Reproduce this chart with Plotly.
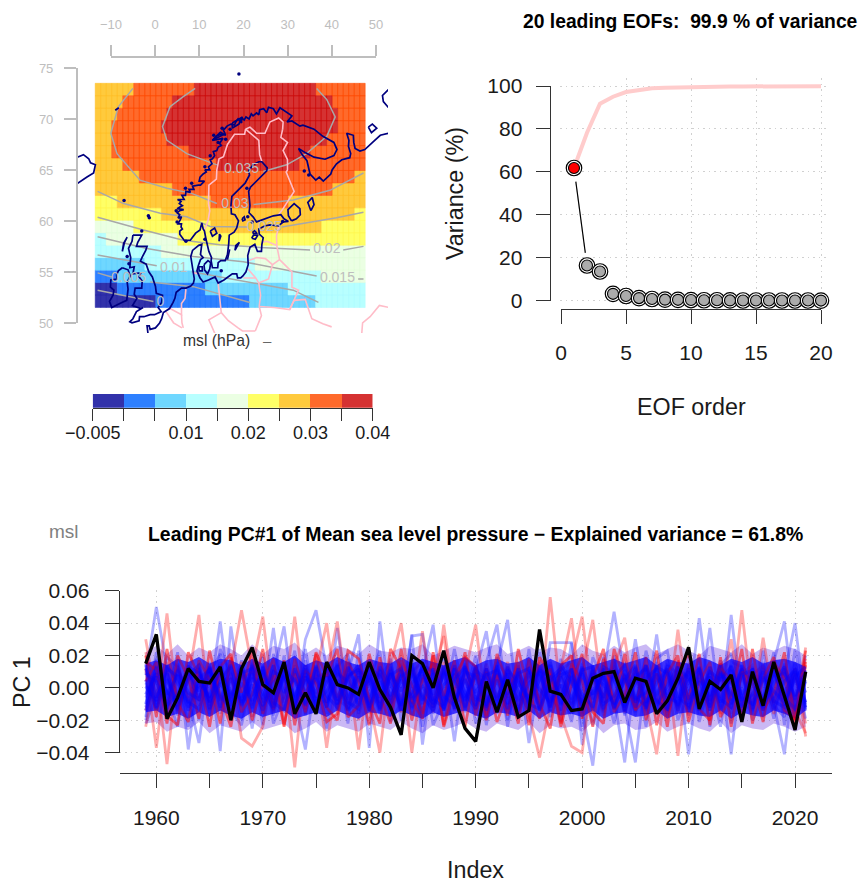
import plotly.graph_objects as go

W, H = 862, 884
def xd(a, b): return [a / W, b / W]
def yd(top, bot): return [1 - bot / H, 1 - top / H]

FONT = "Liberation Sans"

# ---------- map data ----------
band_colors = ["#3232AA", "#2E80FF", "#6FD7FF", "#B8FFFF", "#EBFFE3", "#FFFF66", "#FFCA3D", "#FF6A2B", "#D53232"]
band_edges_colors = ["#2A2AA6", "#2478FF", "#62D0FF", "#AEFAFF", "#E3FCDA", "#FFF650", "#FFBE28", "#FF4A00", "#CC0A0A"]
band_breaks = [-0.005, 0, 0.005, 0.01, 0.015, 0.02, 0.025, 0.03, 0.035, 0.04]
band_tick_labels = ["−0.005", "", "", "0.01", "", "0.02", "", "0.03", "", "0.04"]

lon_start, lon_step, lat_top, lat_step = -13.54, 1.2475, 73.5, 1.2222
eof_rows = [
    [(6, 7), (7, 11), (8, 22), (7, 9)],
    [(6, 5), (7, 9), (8, 29), (7, 6)],
    [(6, 4), (7, 9), (8, 31), (7, 5)],
    [(6, 3), (7, 9), (8, 32), (7, 5)],
    [(6, 3), (7, 10), (8, 29), (7, 7)],
    [(6, 3), (7, 14), (8, 22), (7, 10)],
    [(6, 5), (7, 17), (8, 15), (7, 12)],
    [(6, 8), (7, 39), (6, 2)],
    [(6, 14), (7, 29), (6, 6)],
    [(5, 4), (6, 17), (7, 14), (6, 14)],
    [(5, 12), (6, 35), (5, 2)],
    [(4, 7), (5, 14), (6, 20), (5, 8)],
    [(3, 2), (4, 13), (5, 34)],
    [(3, 12), (4, 37)],
    [(2, 9), (3, 20), (4, 20)],
    [(1, 4), (2, 19), (3, 18), (4, 8)],
    [(0, 4), (1, 16), (2, 15), (3, 14)],
    [(0, 11), (1, 17), (2, 12), (3, 9)],
]

contours = {
    "0.035a": [(9.1, 73.0), (6.4, 72.2), (3.4, 71.2), (1.7, 69.25), (2.7, 67.9), (7.2, 66.6), (14.0, 65.5)],
    "0.035b": [(24.5, 64.85), (29.8, 65.5), (34.3, 66.6), (38.9, 68.3), (40.8, 70.2), (38.9, 71.9), (36.6, 73.0)],
    "0.03a": [(-5.0, 73.0), (-8.3, 71.2), (-10, 68.6), (-8.6, 66.6), (-3.4, 64.0), (2.7, 63.2), (8.3, 62.7), (14, 61.7)],
    "0.03b": [(22.3, 61.6), (31.3, 62.05), (39.6, 63.0), (47.2, 64.7)],
    "0.025a": [(-13, 62.9), (-7.1, 61.7), (1.2, 60.75), (7.2, 60.4), (12.5, 59.45), (20.8, 59.4)],
    "0.025b": [(28.7, 59.4), (41.1, 60.3), (47.2, 60.85)],
    "0.02a": [(-13, 60.35), (-2.6, 59.1), (6.4, 58.1), (14.7, 57.65), (23.8, 57.4), (35.1, 57.15)],
    "0.02b": [(42.6, 57.15), (47.2, 57.5)],
    "0.015a": [(-13, 58.45), (-1.85, 57.3), (8.7, 56.5), (20, 56.0), (36.6, 54.6)],
    "0.015b": [(46.0, 54.3), (47.2, 54.3)],
    "0.01a": [(-13, 56.65), (0.4, 55.6)],
    "0.01b": [(8.3, 55.0), (16.2, 54.4), (31.3, 53.2), (37, 52.0)],
    "0.005a": [(-13, 54.9), (-9.8, 54.5)],
    "0.005b": [(-1.1, 54.0), (8.7, 53.55), (21.5, 52.0)],
    "0": [(-13, 53.2), (-0.35, 52.1)],
}
contour_label_text = ["0.035", "0.03", "0.025", "0.02", "0.015", "0.01", "0.005", "0"]
contour_label_lon = [19.6, 18.1, 24.7, 38.9, 41.3, 4.2, -6.0, 1.2]
contour_label_lat = [65.0, 61.6, 59.4, 57.15, 54.35, 55.35, 54.3, 52.0]

coast_main = [
    (52.9, 68.6), (51, 68.4), (49.5, 67.8), (47.5, 67.0), (46.4, 66.85), (45.3, 67.1), (45.0, 67.7), (44.9, 68.4), (43.4, 68.6),
    (43.9, 67.9), (43.8, 67.3), (44.3, 66.6), (44.1, 66.2), (42.3, 66.0), (41.1, 65.6), (40.1, 65.0), (39.8, 64.6), (38.1, 63.9),
    (37.2, 64.3), (36.4, 64.0), (35.1, 64.6), (34.7, 65.2), (34.4, 65.9), (33.3, 66.5), (32.5, 67.1), (34, 66.7), (36, 66.25),
    (38.5, 66.05), (40.5, 66.4), (41.2, 67.0), (40.5, 67.7), (38, 68.3), (36, 69.0), (33.5, 69.4), (32.8, 69.3), (31, 69.8), (29.9, 69.7), (31.0, 70.3),
    (29.5, 70.7), (28.3, 71.1), (27.5, 70.5), (26.8, 71.0), (25.7, 71.15), (25.3, 70.6), (24.6, 71.0), (23.7, 70.9), (23.5, 70.4), (23.0, 70.6),
    (22.2, 70.3), (21.8, 70.5), (21.3, 70.0), (20.6, 70.2), (20.2, 69.9), (19.6, 70.1), (19.6, 69.6), (18.8, 70.0), (18.3, 69.7), (18.0, 69.4),
    (17.2, 69.5), (16.3, 69.3), (15.5, 68.9), (16.0, 68.4), (15.0, 68.5), (14.0, 68.35), (13.0, 67.9), (14.2, 68.0), (15.4, 68.1), (14.6, 67.6),
    (15.0, 67.4), (14.3, 67.25), (14.0, 66.9), (13.2, 66.8), (13.5, 66.4), (13.0, 66.1), (12.5, 66.0), (12.9, 65.6), (12.1, 65.3), (12.4, 65.0),
    (11.3, 65.0), (11.6, 64.8), (10.9, 64.6), (10.2, 64.3), (10.0, 63.9), (11.2, 63.9), (10.3, 63.5), (9.8, 63.5), (8.5, 63.4), (8.8, 63.1),
    (7.7, 63.1), (8.0, 62.8), (7.0, 62.9), (6.9, 62.5), (6.1, 62.5), (6.6, 62.1), (5.1, 62.1), (5.9, 61.9), (5.5, 61.7), (6.2, 61.5), (5.0, 61.2),
    (6.5, 61.1), (5.6, 61.0), (5.0, 60.8), (5.6, 60.6), (5.2, 60.3), (6.0, 60.4), (5.7, 60.1), (5.2, 59.7), (6.0, 59.7), (5.9, 59.4), (6.2, 59.2),
    (5.6, 59.0), (5.6, 58.7), (6.6, 58.1), (8.0, 58.1), (9.2, 58.8), (10.2, 59.1),
    (10.6, 59.8), (10.9, 59.2), (11.2, 59.0), (11.5, 58.3), (11.9, 57.7), (12.2, 57.0), (12.8, 56.4), (12.7, 56.1), (13.0, 55.4), (14.2, 55.4),
    (14.3, 55.9), (14.9, 56.1), (15.9, 56.1), (16.4, 56.7), (16.7, 57.8), (16.8, 58.6), (17.9, 58.9), (18.5, 59.3), (18.9, 60.0), (18.1, 60.6),
    (17.3, 60.7), (17.2, 61.5), (17.4, 62.4), (18.6, 62.9), (19.8, 63.5), (20.4, 63.7), (21.4, 64.5), (21.2, 64.9), (22.2, 65.5), (23.5, 65.8), (24.2, 65.8),
    (25.4, 65.2), (25.3, 64.9), (24.6, 64.6), (23.0, 63.9), (21.6, 63.3), (21.2, 62.9), (21.4, 62.2), (21.5, 61.5), (21.3, 60.8), (22.2, 60.4),
    (23.0, 59.9), (25.0, 60.2), (26.8, 60.5), (28.5, 60.6), (29.2, 60.2), (30.2, 59.95), (29.0, 59.9), (28.0, 59.5), (26.0, 59.6), (24.8, 59.5), (23.5, 59.2),
    (23.6, 58.7), (24.5, 58.35), (24.2, 57.7), (24.1, 57.0), (23.2, 57.0), (22.6, 57.7), (21.5, 57.4), (21.0, 56.6), (21.1, 55.7), (20.6, 55.0), (19.9, 54.6),
    (19.4, 54.4), (18.7, 54.4), (18.5, 54.8), (17.5, 54.8), (15.6, 54.2), (14.3, 53.9), (13.6, 54.5), (12.1, 54.2), (10.9, 54.0), (10.2, 54.4), (9.9, 54.8),
    (9.5, 55.1), (9.8, 55.6), (10.3, 56.2), (10.9, 56.4), (10.3, 56.7), (10.5, 57.4), (10.6, 57.7), (9.9, 57.6), (8.5, 57.1), (8.1, 56.5), (8.4, 55.5),
    (8.6, 54.9), (8.9, 54.3), (8.7, 53.9), (8.1, 53.6), (7.0, 53.4), (6.0, 53.4), (4.8, 53.0), (4.5, 52.4), (4.1, 52.0), (3.3, 51.4), (1.9, 51.0),
    (1.5, 50.4), (1.0, 49.95), (0.1, 49.5), (-1.1, 49.35), (-1.3, 49.7), (-1.8, 49.7), (-1.6, 49.0),
]
coast_britain = [
    (-5.0, 58.6), (-3.4, 58.65), (-3.0, 58.6), (-3.9, 57.9), (-4.2, 57.5), (-1.8, 57.5), (-2.1, 57.1), (-2.9, 56.45), (-3.3, 56.05), (-2.0, 55.75),
    (-1.4, 55.0), (-0.6, 54.5), (0.1, 53.6), (0.3, 52.9), (1.7, 52.7), (1.5, 52.0), (0.7, 51.5), (1.4, 51.1), (-0.1, 50.8), (-1.1, 50.8), (-2.5, 50.6),
    (-3.5, 50.6), (-3.6, 50.2), (-5.2, 50.0), (-5.7, 50.1), (-5.0, 50.4), (-4.2, 51.1), (-2.7, 51.5), (-3.2, 51.4), (-5.1, 51.7), (-4.1, 52.4),
    (-4.7, 52.8), (-4.5, 53.4), (-3.0, 53.4), (-2.9, 54.1), (-3.6, 54.5), (-3.2, 54.9), (-5.0, 54.8), (-4.7, 55.5), (-5.7, 55.4), (-5.5, 56.4), (-6.0, 57.3), (-5.2, 58.0), (-5.0, 58.6),
]
coast_ireland = [
    (-7.4, 55.4), (-6.1, 55.2), (-5.6, 54.6), (-6.3, 54.0), (-6.1, 53.3), (-6.4, 52.2), (-7.5, 52.0), (-8.3, 51.8), (-9.8, 51.5), (-10.3, 52.1),
    (-9.5, 52.7), (-9.3, 53.2), (-10.1, 53.5), (-10.0, 54.2), (-8.6, 54.3), (-8.7, 54.7), (-8.3, 55.1), (-7.4, 55.4),
]
coast_iceland = [(-17.8, 66.2), (-16.2, 66.5), (-15.0, 66.1), (-14.6, 65.7), (-13.5, 65.5), (-13.9, 64.7), (-15.4, 64.3), (-17.3, 63.7), (-17.8, 63.6)]
coast_kolguev = [(48.3, 69.2), (49.2, 69.5), (50.2, 69.1), (49, 68.65), (48.3, 69.2)]
coast_novaya = [(52.9, 72.9), (51.5, 72.3), (51.7, 71.7), (52.9, 71.1)]
coast_gotland = [(18.1, 57.1), (18.8, 57.7), (19.1, 57.9), (18.3, 57.6), (18.1, 57.1)]
coast_oland = [(16.4, 56.2), (16.9, 57.2), (16.6, 56.6), (16.4, 56.2)]
coast_saaremaa = [(21.9, 58.3), (22.3, 58.6), (23.3, 58.6), (22.7, 58.2), (21.9, 58.3)]
coast_hiiumaa = [(22.1, 58.9), (22.6, 59.05), (23.0, 58.8), (22.3, 58.75), (22.1, 58.9)]
coast_zealand = [(11.1, 55.7), (12.0, 56.1), (12.6, 55.9), (12.4, 55.3), (11.9, 54.8), (11.2, 55.2), (11.1, 55.7)]
coast_funen = [(9.9, 55.5), (10.7, 55.5), (10.7, 55.1), (10.0, 55.1), (9.9, 55.5)]
coast_ladoga = [(30.9, 60.0), (30.2, 60.5), (30.1, 61.1), (31.5, 61.7), (32.8, 61.2), (32.9, 60.6), (32.0, 60.2), (30.9, 60.0)]
coast_onega = [(35.3, 61.0), (34.6, 61.8), (35.6, 62.3), (36.0, 61.6), (35.3, 61.0)]
coast_vanern = [(12.5, 59.0), (13.5, 59.3), (14.0, 58.8), (13.0, 58.5), (12.5, 59.0)]
coast_vattern = [(14.5, 58.0), (14.6, 58.7), (14.9, 58.5), (14.5, 58.0)]
coast_aland = [(19.7, 60.2), (20.2, 60.4), (20.4, 60.1), (19.9, 60.0), (19.7, 60.2)]
coast_lofoten = [(13.0, 67.9), (14.8, 68.7), (15.6, 68.5), (14.0, 68.1), (13.0, 67.9)]
coast_skerries = [(17.5, 69.6), (18.6, 69.9), (19.8, 70.2), (19.0, 69.5), (17.5, 69.1), (17.5, 69.6)]
coast_hebrides = [(-7.4, 57.0), (-7.1, 57.8), (-6.3, 58.4), (-6.9, 57.9), (-7.4, 57.0)]
coast_jan_mayen = [(-9.0, 70.85), (-8.2, 71.1), (-8.6, 70.95), (-9.0, 70.85)]
coast_dots = [(19.0, 74.4), (-7.0, 62.0), (-1.3, 60.3), (-1.5, 60.5), (-3.0, 59.0), (15.0, 55.1), (-6.3, 56.5), (-5.9, 55.8),
              (34.8, 64.5), (33.8, 64.9), (13.3, 68.4), (15.2, 69.1), (12.5, 66.4), (11.3, 65.3), (8.3, 63.7), (4.8, 61.0), (5.0, 59.9),
              (7.0, 58.0), (11.3, 58.2), (28.9, 59.95), (22.0, 59.9), (21.0, 60.4), (20.8, 63.2), (6.9, 63.2), (17.0, 69.0), (16.0, 68.0), (14.3, 67.7)]

borders = [
    [(11.2, 59.1), (11.8, 59.7), (12.0, 60.0), (12.4, 61.0), (12.1, 61.7), (12.2, 63.5), (13.9, 64.1), (14.0, 65.0), (14.5, 66.1), (15.5, 66.3), (16.4, 67.5), (18.0, 68.5), (20.3, 68.5), (20.5, 69.0)],
    [(20.5, 69.0), (21.5, 69.2), (23.0, 68.6), (24.9, 68.6), (26.0, 69.7), (28.0, 70.1), (29.0, 69.7), (28.9, 69.0)],
    [(20.5, 69.0), (23.5, 67.9), (23.7, 66.5), (24.2, 65.8)],
    [(28.9, 69.0), (28.5, 68.2), (30.0, 67.7), (29.0, 66.9), (30.0, 66.0), (30.0, 65.0), (29.7, 64.8), (30.5, 64.0), (31.5, 62.9), (29.0, 61.2), (27.8, 60.5)],
    [(28.0, 59.5), (27.5, 58.5), (27.6, 57.5), (28.2, 56.2), (31.0, 55.0), (31.0, 53.5), (32.5, 53.2), (31.5, 52.2), (30.5, 51.3)],
    [(24.4, 57.9), (25.3, 58.0), (27.5, 57.6)],
    [(21.1, 56.1), (23.0, 56.4), (25.0, 56.3), (26.6, 55.7), (28.2, 56.2)],
    [(26.6, 55.7), (25.7, 54.3), (24.0, 54.0), (23.5, 53.9), (23.9, 52.7), (23.6, 51.6), (24.1, 50.7), (22.7, 49.2)],
    [(20.0, 54.4), (22.8, 54.4), (21.0, 55.3)],
    [(22.8, 54.4), (23.5, 53.9)],
    [(23.6, 51.6), (27.0, 51.5), (30.5, 51.3), (31.5, 52.2), (34.0, 52.3), (35.5, 50.4), (38.0, 49.9), (40.0, 49.6)],
    [(14.3, 53.9), (14.6, 52.6), (15.0, 51.0), (12.2, 50.3), (13.7, 48.8)],
    [(15.0, 51.0), (16.6, 50.2), (18.8, 49.5), (19.8, 49.2), (22.7, 49.2)],
    [(7.0, 53.3), (6.8, 52.4), (6.0, 51.9), (6.0, 50.8), (3.4, 51.4)],
    [(6.0, 50.8), (6.1, 50.0), (6.4, 49.5)],
    [(8.6, 54.9), (9.9, 54.8)],
    [(2.5, 51.1), (4.2, 50.0), (6.1, 49.5)],
    [(46.8, 48.9), (47.0, 50.0), (48.7, 50.6), (50.8, 51.7), (53.0, 51.5)],
]

# ---------- EOF panel data ----------
eof_order = list(range(1, 21))
eof_variance = [61.8, 16.4, 13.6, 3.2, 2.2, 1.2, 0.8, 0.5, 0.4, 0.3, 0.2, 0.2, 0.15, 0.1, 0.1, 0.1, 0.1, 0.1, 0.1, 0.05]
eof_cumulative = [61.8, 78.2, 91.8, 95.0, 97.2, 98.2, 98.9, 99.2, 99.4, 99.5, 99.6, 99.7, 99.75, 99.8, 99.82, 99.85, 99.87, 99.89, 99.9, 99.9]

# ---------- PC panel data (values x 0.001) ----------
years = list(range(1959, 2022))
pc1 = [15, 33, -19, -6, 12, 4, 3, 13, -20, 12,
       25, 2, -3, 16, -16, -3, -16, 16, 2, 0,
       -4, 16, -1, -12, -29, 20, 15, 0, 23, -6,
       -25, -33, 4, -15, 5, -18, -14, 36, -2, -4,
       -14, -13, 6, 9, 10, -9, 6, 4, -16, -8,
       6, 25, -13, 4, -1, 8, -21, 10, -11, 16,
       -5, -26, 10]

# solid and thin parts of the ensemble cloud, read year by year
cloud_upper = [15,17,14,18,16,19,15,18,17,14, 18,15,19,16,20,14,17,15,19,16, 14,18,16,15,19,15,18,16,14,17, 19,14,17,18,15,16,19,14,18,15, 17,19,14,16,18,15,17,19,14,18, 16,15,19,17,14,18,16,19,15,17, 18,16,13]
cloud_lower = [-15,-14,-18,-16,-19,-15,-18,-14,-17,-19, -15,-18,-16,-14,-19,-17,-15,-18,-14,-17, -19,-15,-16,-18,-14,-17,-19,-15,-18,-16, -14,-17,-19,-15,-16,-18,-14,-19,-15,-17, -16,-18,-14,-19,-16,-15,-18,-17,-14,-19, -16,-15,-17,-18,-14,-19,-15,-17,-18,-14, -16,-19,-14]
outer_upper = [22,26,21,27,20,25,22,27,24,20, 27,21,26,24,28,21,25,20,26,24, 21,27,23,22,25,24,27,20,23,26, 24,22,25,27,21,23,26,22,25,24, 20,27,23,21,26,22,25,27,21,24, 27,23,20,26,24,22,27,21,25,23, 26,24,20]
outer_lower = [-22,-21,-27,-24,-26,-21,-28,-23,-25,-27, -21,-26,-24,-22,-28,-25,-21,-27,-23,-25, -27,-22,-24,-26,-21,-25,-28,-23,-26,-24, -21,-25,-27,-22,-24,-26,-21,-28,-23,-25, -24,-27,-21,-28,-23,-22,-26,-25,-21,-27, -24,-22,-25,-27,-21,-28,-23,-25,-26,-22, -24,-27,-24]

blue_members = [
    [8,50,12,-8,14,-6,10,-16,18,-4, -12,6,-10,16,-14,30,48,12,-6,8, -10,4,-16,9,-14,11,-18,6,-9,13, -8,14,-12,9,-20,8,-11,16,-5,-14, 10,-14,-48,9,47,6,-15,12,-10,17, -6,14,-16,7,-12,45,-9,12,-18,10, -8,16,-12],
    [-20,14,-8,22,-38,10,-6,41,-10,14, -18,11,-14,20,-8,-38,9,-12,15,-6, 12,-9,15,-13,8,-17,10,39,-14,12, -15,9,-11,14,42,-13,10,-9,17,-8, -16,8,-13,19,-6,-46,11,-14,9,-17, 16,-10,43,-7,14,-22,9,-15,12,-9, 15,-11,20],
    [15,-10,6,-14,11,-8,16,-39,38,-6, 12,-16,9,38,-11,7,-15,10,-8,18, -7,13,-12,6,-15,33,-35,12,-8,17, -14,10,35,-9,12,-18,7,-13,16,-11, 8,-16,13,-7,18,-12,-46,9,-14,6, -13,11,-9,37,-15,8,-17,13,-10,16, 41,-14,5],
    [-12,18,-9,12,-6,-34,13,-7,9,-15, 16,-8,37,-14,10,-11,8,-16,37,-9, 14,-6,11,-17,9,-12,15,-8,13,-10, 6,-13,16,39,-10,14,-34,8,-12,18, -9,12,-15,7,-13,16,-8,11,-16,14, 9,-41,13,-10,17,-8,12,-14,9,-19, 8,40,-13],
    [3,-14,10,-17,7,12,-11,16,-9,11, -25,14,-10,7,-13,17,-6,12,-14,9, 33,-37,41,-11,12,-9,14,-16,10,-7, 15,-10,12,-13,8,-15,17,-6,11,-14, 28,-35,14,-9,12,-17,10,-13,16,-8, 11,-15,9,-12,8,-41,13,-7,14,-10, -41,15,-9],
    [-6,9,-13,15,-9,8,-16,12,-5,17, -10,13,-17,8,-12,10,-14,14,-7,-12, 9,-13,7,16,-11,32,33,-10,12,-33, 14,-8,11,-16,9,-7,13,-12,28,28, 28,-12,8,-15,14,-10,30,-9,33,-13, 10,-17,12,-8,15,-13,7,-11,16,-6, 12,-16,8],
    [-18,22,-3,-24,16,-20,9,21,-14,-23, 7,19,-22,-5,23,-17,11,-25,13,21, -16,5,23,-21,-9,18,-24,4,20,-13, 17,-22,-6,19,-24,13,-8,24,-18,2, -21,15,-23,-4,20,-16,9,-24,18,23, -12,19,-21,3,-24,16,13,-20,-6,22, -23,8,-19],
    [-22,-5,19,13,-24,3,-17,24,8,-20, 15,-23,21,1,-19,24,-11,-7,17,-22, 23,-14,-3,18,-20,10,16,-23,-8,24, -6,20,-23,16,7,-19,24,-13,3,-21, 12,-24,19,5,-22,9,-17,23,-4,14, -20,-3,18,-24,14,21,-6,-16,23,-11, -18,24,-10],
]
red_members = [
    [30,-8,46,-12,5,45,-14,9,-7,16, -11,8,-15,12,-49,14,-6,10,-13,7, 12,-16,9,-8,14,-12,6,-15,11,-9, 10,-14,12,-7,16,-11,8,-13,56,-6, 14,-10,8,-17,11,-6,13,-15,9,-12, 16,-8,11,-14,7,-10,48,-9,13,-16, 10,-12,25],
    [-24,10,-47,14,-8,11,-13,7,12,48, 12,44,-9,15,-12,7,-14,11,-6,13, -38,12,-10,8,-15,13,-7,16,-11,9, -13,14,-8,11,-15,9,-12,17,-7,12, 43,-11,9,-14,16,-8,12,-10,-41,10, -15,13,-7,11,-16,9,-12,8,14,-10, 12,-14,-28],
    [12,-37,16,-6,13,-11,8,-14,10,-31, -36,-24,11,-9,14,-13,7,9,41,-10, 7,-14,12,-9,15,-40,8,-12,16,-6, -10,13,-15,9,-7,12,-16,-43,-10,11, 16,44,-9,12,-13,8,-11,14,-7,-15, 36,-12,10,-8,13,-16,9,14,-11,15, -7,12,-30],
    [-14,8,-11,13,-6,15,-9,12,-13,6, 10,-12,14,-7,44,-10,13,-37,9,-14, 11,-8,-40,14,40,-10,35,-12,39,-7, 9,39,-13,8,-14,10,-7,14,-11,9, -12,10,42,-9,13,-15,7,-10,14,-8, 11,-16,8,-10,15,-7,12,-13,31,-9, 14,-8,18],
    [22,-6,11,-15,9,-8,14,-10,6,-12, 13,-9,7,-14,11,-16,10,40,-8,12, -20,9,-13,12,-7,11,-15,8,32,-14, 6,-11,15,-8,13,-16,9,-7,12,-17, -36,-40,11,-6,14,31,-13,8,-10,12, -42,15,-9,13,-6,30,-14,10,-8,11, -16,9,-22],
    [20,-18,24,-9,-21,17,5,-22,19,-3, 23,-16,8,-24,18,-6,21,-12,-20,16, 4,-23,19,-14,24,-8,-19,22,-5,17, -24,11,-17,21,3,-22,18,-10,-25,14, 20,-19,6,24,-15,-4,22,-20,9,-24, 17,-7,21,-23,12,5,-18,24,-14,-3, 22,-20,16],
    [16,11,-22,20,6,-19,23,-5,-24,12, -20,3,18,-23,9,-15,22,7,24,-18, -11,21,-4,-22,17,2,-16,20,-23,7, 19,13,-20,8,-17,24,-3,-19,12,-22, 15,4,-24,18,-9,21,-14,-6,23,-18, 7,22,-13,-20,19,-24,10,4,-21,16, 6,-22,14],
    [4,16,-17,-23,22,7,-24,13,21,-15, -4,24,-13,17,-23,11,3,-21,-16,23, 18,-7,-22,24,12,-20,5,15,-24,-2, 22,-17,10,-21,-3,16,-23,19,8,-24, 2,21,-15,-22,24,4,-13,19,-23,9, 20,-21,3,16,-18,-5,24,-22,6,19, -14,-19,23],
]
core_members = [
    [12,-6,9,-13,5,11,-9,14,-11,3, -8,13,-5,10,-14,7,-3,12,-10,6, 14,-12,4,-7,11,-13,8,-4,13,-9, 5,-11,12,-6,9,-14,3,10,-12,7, -10,13,-4,8,-13,6,-9,14,-5,11, -14,4,12,-8,10,-3,-12,9,-7,13, -11,6,-9],
    [-10,13,-4,8,-12,6,11,-5,-13,9, 12,-7,14,-3,6,-11,13,-9,5,-14, -6,11,-13,9,-2,14,-8,12,-5,-11, 10,7,-14,13,-4,8,-10,-13,6,12, 3,-9,11,-13,7,14,-6,-11,12,-4, 9,-13,6,-5,14,-10,8,11,-12,3, 13,-7,11],
    [5,-12,14,3,-9,-13,7,10,-6,12, -13,9,-7,12,4,-10,14,-5,-12,8, 11,6,-9,13,-14,3,11,-7,-12,14, -3,-13,8,11,-6,12,-9,5,14,-10, 7,-4,-12,13,9,-11,3,14,-8,-13, 12,6,-10,13,-7,-12,14,2,-9,10, -6,-13,4],
    [-14,7,-11,-4,13,9,-8,4,14,-10, 2,-14,10,6,-7,12,-11,14,3,-9, -13,13,7,-10,5,-6,13,-12,2,8, -12,11,5,-8,13,-2,-14,11,7,-5, 12,-13,6,2,-10,11,-7,-3,13,9, -11,8,-14,10,5,13,-6,-10,7,-13, 4,11,-12],
    [9,4,-13,11,-3,-7,13,-12,6,-9, 14,3,-12,8,-6,14,-9,-2,11,-13, 7,-10,13,2,-11,9,-5,-14,10,4, -8,13,-6,-12,11,4,-10,13,-8,2, -13,9,-7,11,5,-12,13,-9,3,12, -6,-11,13,-14,8,3,-8,12,-13,7, 9,-5,10],
    [-4,9,-2,-11,8,14,-13,3,-8,13, -5,11,-9,-14,12,-3,6,-12,9,4, -11,8,-6,11,-9,-3,14,10,-13,5, 13,-6,-10,5,-13,9,12,-14,4,10, -7,11,13,-10,-5,8,-12,6,12,-14, 3,10,-12,7,-9,14,-11,-4,10,-8, -12,12,-3],
    [1,-8,12,7,-14,3,-5,11,-3,-7, 9,-11,3,13,-9,5,-13,7,-10,13, -2,5,-14,8,12,-7,1,-10,9,-13, 12,-3,9,-11,6,-8,11,-1,-9,14, 5,-12,9,-6,10,-14,7,12,-11,1, 13,-7,4,-12,9,-5,11,-13,6,-2, -9,7,13],
    [14,-13,5,-9,10,-2,12,-8,13,-11, 6,-3,-13,11,-5,9,-8,3,14,-7, 10,-14,11,-5,7,12,-10,9,-14,12, -7,9,-12,14,-10,3,-6,11,-14,8, 11,-8,-3,10,-12,5,14,-13,8,-6, -9,12,-5,9,-13,11,-4,7,-14,12, -3,10,-14],
]

fig = go.Figure()

# ---------- map ----------
by_level = {i: ([], []) for i in range(len(band_colors))}
for r, row in enumerate(eof_rows):
    top = lat_top - r * lat_step
    bot = top - lat_step
    c = 0
    for level, count in row:
        for _ in range(count):
            x0 = lon_start + c * lon_step
            x1 = x0 + lon_step
            by_level[level][0].extend([x0, x1, x1, x0, x0, None])
            by_level[level][1].extend([top, top, bot, bot, top, None])
            c += 1
for i, (xs, ys) in by_level.items():
    fig.add_trace(go.Scatter(x=xs, y=ys, mode="lines", fill="toself", fillcolor=band_colors[i],
                             line=dict(color=band_edges_colors[i], width=0.5), hoverinfo="skip", xaxis="x", yaxis="y"))

def poly(lst, color, width):
    fig.add_trace(go.Scatter(x=[p[0] for p in lst], y=[p[1] for p in lst], mode="lines",
                             line=dict(color=color, width=width), hoverinfo="skip", xaxis="x", yaxis="y"))

for seg in contours.values():
    poly(seg, "#A8A8A8", 1.5)
for b in borders:
    poly(b, "#FFBCC8", 1.6)
for seg in [coast_main, coast_britain, coast_ireland, coast_iceland, coast_kolguev, coast_novaya, coast_gotland, coast_oland,
            coast_saaremaa, coast_hiiumaa, coast_zealand, coast_funen, coast_ladoga, coast_onega, coast_vanern, coast_vattern,
            coast_aland, coast_lofoten, coast_skerries, coast_hebrides, coast_jan_mayen]:
    poly(seg, "#00007F", 1.7)
fig.add_trace(go.Scatter(x=[p[0] for p in coast_dots], y=[p[1] for p in coast_dots], mode="markers",
                         marker=dict(color="#00007F", size=3.5), hoverinfo="skip", xaxis="x", yaxis="y"))
fig.add_trace(go.Scatter(x=contour_label_lon, y=contour_label_lat, text=contour_label_text, mode="text",
                         textfont=dict(color="#BEBEBE", size=14, family=FONT), hoverinfo="skip", xaxis="x", yaxis="y"))

# ---------- empty carriers for the decorative axes ----------
for xa, ya in [("x2", "y2"), ("x3", "y3"), ("x5", "y5"), ("x7", "y7"), ("x8", "y8")]:
    fig.add_trace(go.Scatter(x=[None], y=[None], mode="markers", hoverinfo="skip", xaxis=xa, yaxis=ya))

# ---------- colour key ----------
cs = []
n = len(band_colors)
for i, c in enumerate(band_colors):
    cs += [[i / n, c], [(i + 1) / n, c]]
fig.add_trace(go.Heatmap(z=[list(range(n))], x=band_breaks, y=[0, 1], zmin=-0.5, zmax=n - 0.5, colorscale=cs,
                         showscale=False, hoverinfo="skip", xaxis="x9", yaxis="y9"))

# ---------- EOF panel ----------
fig.add_trace(go.Scatter(x=eof_order, y=eof_cumulative, mode="lines", line=dict(color="#FFCCCC", width=4),
                         hoverinfo="skip", xaxis="x6", yaxis="y6", cliponaxis=False))
f0, f1 = 0.14, 0.87
fig.add_trace(go.Scatter(x=[eof_order[0] + f0 * (eof_order[1] - eof_order[0]), eof_order[0] + f1 * (eof_order[1] - eof_order[0])],
                         y=[eof_variance[0] + f0 * (eof_variance[1] - eof_variance[0]), eof_variance[0] + f1 * (eof_variance[1] - eof_variance[0])],
                         mode="lines", line=dict(color="black", width=1.2), hoverinfo="skip", xaxis="x6", yaxis="y6"))
fig.add_trace(go.Scatter(x=eof_order, y=eof_variance, mode="markers",
                         marker=dict(size=15.5, color="white", line=dict(color="black", width=1.2)),
                         hoverinfo="skip", xaxis="x6", yaxis="y6", cliponaxis=False))
fig.add_trace(go.Scatter(x=eof_order, y=eof_variance, mode="markers",
                         marker=dict(size=11, color=["#FF0000"] + ["#ABABAB"] * 19, line=dict(color="black", width=1.1)),
                         hoverinfo="skip", xaxis="x6", yaxis="y6", cliponaxis=False))

# ---------- PC panel ----------
def pcline(vals, color, width):
    fig.add_trace(go.Scatter(x=years, y=[v / 1000 for v in vals], mode="lines", line=dict(color=color, width=width),
                             hoverinfo="skip", xaxis="x4", yaxis="y4"))
def cloud(upper, lower, color):
    fig.add_trace(go.Scatter(x=years + years[::-1], y=[v / 1000 for v in upper] + [v / 1000 for v in lower[::-1]],
                             mode="lines", line=dict(width=0), fill="toself", fillcolor=color,
                             hoverinfo="skip", xaxis="x4", yaxis="y4"))
cloud(outer_upper, outer_lower, "rgba(80,20,220,0.30)")
for m in blue_members:
    pcline(m, "rgba(0,0,255,0.30)", 2.8)
for m in red_members:
    pcline(m, "rgba(255,0,0,0.32)", 2.8)
cloud(cloud_upper, cloud_lower, "rgba(10,0,255,0.72)")
for m in red_members[5:]:
    pcline(m, "rgba(255,0,0,0.30)", 2.5)
for m in core_members:
    pcline(m, "rgba(0,0,255,0.38)", 3.2)
pcline(pc1, "black", 3.3)

# ---------- layout ----------
GREY = "#BEBEBE"
DOT = "1.5px,4px"
def ann(text, px, py, size, color="black", bold=False, rot=0, xa="center"):
    return dict(text=f"<b>{text}</b>" if bold else text, x=px / W, y=1 - py / H, xref="paper", yref="paper", showarrow=False,
                font=dict(size=size, color=color, family=FONT), textangle=rot, xanchor=xa, yanchor="middle")

hidden = dict(visible=False)
grid = dict(showgrid=True, gridcolor="#D0D0D0", griddash=DOT, gridwidth=1, zeroline=False, showline=False,
            showticklabels=False, ticks="")

fig.update_layout(
    width=W, height=H, autosize=False, margin=dict(l=0, r=0, t=0, b=0, pad=0, autoexpand=False), showlegend=False,
    paper_bgcolor="white", plot_bgcolor="rgba(0,0,0,0)", font=dict(family=FONT),
    # map
    xaxis=dict(domain=xd(77.7, 388), range=[-17.5, 52.75], anchor="y", **hidden),
    yaxis=dict(domain=yd(68, 333), range=[49, 75], anchor="x", **hidden),
    # top longitude axis
    xaxis2=dict(domain=xd(111, 376), range=[-10, 50], anchor="y2", side="top", tickmode="array", tickvals=list(range(-10, 60, 10)),
                ticks="outside", ticklen=11, tickcolor=GREY, tickwidth=1.5, showline=True, linecolor=GREY, linewidth=1.5,
                tickfont=dict(color=GREY, size=13, family=FONT), ticklabelstandoff=11, showgrid=False, zeroline=False),
    yaxis2=dict(domain=yd(58, 59), range=[0, 1], anchor="x2", **hidden),
    # left latitude axis
    xaxis3=dict(domain=xd(77.7, 79), range=[0, 1], anchor="y3", **hidden),
    yaxis3=dict(domain=yd(68, 323), range=[50, 75], anchor="x3", side="left", tickmode="array", tickvals=list(range(50, 80, 5)),
                ticks="outside", ticklen=12, tickcolor=GREY, tickwidth=1.5, showline=True, linecolor=GREY, linewidth=1.5,
                tickfont=dict(color=GREY, size=13, family=FONT), ticklabelstandoff=8, showgrid=False, zeroline=False),
    # PC panel
    xaxis4=dict(domain=xd(119.7, 831.7), range=[1959 + (119.7 - 145.7) / 10.645, 1959 + (831.7 - 145.7) / 10.645], anchor="y4",
                tickmode="linear", tick0=1960, dtick=10, ticks="outside", ticklen=14, tickcolor="#333", tickwidth=1.3,
                showline=True, linecolor="#333", linewidth=1.3, tickfont=dict(size=21, family=FONT, color="#1a1a1a"), ticklabelstandoff=12,
                showgrid=True, gridcolor="#D0D0D0", griddash=DOT, zeroline=False,
                minor=dict(dtick=5, tick0=1960, ticks="outside", ticklen=14, tickcolor="#333", tickwidth=1.3, showgrid=False)),
    yaxis4=dict(domain=yd(590, 772.7), range=[-0.04 - 20 / 1620, 0.06 + 0.7 / 1620], anchor="x4", tickmode="linear", tick0=-0.04, dtick=0.02, **grid),
    xaxis5=dict(domain=xd(119.7, 121), range=[0, 1], anchor="y5", **hidden),
    yaxis5=dict(domain=yd(590.7, 752.7), range=[-0.04, 0.06], anchor="x5", side="left", tickmode="linear", tick0=-0.04, dtick=0.02,
                tickformat=".2f", ticks="outside", ticklen=14, tickcolor="#333", tickwidth=1.3, showline=True, linecolor="#333", linewidth=1.3,
                tickfont=dict(size=21, family=FONT, color="#1a1a1a"), ticklabelstandoff=11, showgrid=False, zeroline=False),
    # EOF panel data + grid
    xaxis6=dict(domain=xd(560, 828), range=[(560 - 561) / 13, (828 - 561) / 13], anchor="y6", tickmode="linear", tick0=0, dtick=5, **grid),
    yaxis6=dict(domain=yd(78, 305), range=[(300.7 - 305) / 2.147, (300.7 - 78) / 2.147], anchor="x6", tickmode="linear", tick0=0, dtick=20, **grid),
    xaxis7=dict(domain=xd(561, 821), range=[0, 20], anchor="y7", tickmode="linear", tick0=0, dtick=5, ticks="outside", ticklen=14,
                tickcolor="#333", tickwidth=1.3, showline=True, linecolor="#333", linewidth=1.3,
                tickfont=dict(size=21, family=FONT, color="#1a1a1a"), ticklabelstandoff=11, showgrid=False, zeroline=False),
    yaxis7=dict(domain=yd(307.7, 308.7), range=[0, 1], anchor="x7", **hidden),
    xaxis8=dict(domain=xd(550.7, 552), range=[0, 1], anchor="y8", **hidden),
    yaxis8=dict(domain=yd(86, 300.7), range=[0, 100], anchor="x8", side="left", tickmode="linear", tick0=0, dtick=20, ticks="outside", ticklen=14,
                tickcolor="#333", tickwidth=1.3, showline=True, linecolor="#333", linewidth=1.3,
                tickfont=dict(size=21, family=FONT, color="#1a1a1a"), ticklabelstandoff=9, showgrid=False, zeroline=False),
    # colour key
    xaxis9=dict(domain=xd(92.7, 372.7), range=[-0.005, 0.04], anchor="y9", tickmode="array", tickvals=band_breaks, ticktext=band_tick_labels,
                ticks="outside", ticklen=12, tickcolor="#333", tickwidth=1.3, showline=True, linecolor="#333", linewidth=1.3,
                tickfont=dict(size=18, family=FONT, color="#1a1a1a"), ticklabelstandoff=-3, showgrid=False, zeroline=False),
    yaxis9=dict(domain=yd(394, 407.7), range=[0, 1], anchor="x9", **hidden),
    annotations=[
        ann("20 leading EOFs:  99.9 % of variance", 690.5, 21, 19.3, bold=True),
        ann("Variance (%)", 455, 194, 23.3, rot=-90, color="#1a1a1a"),
        ann("EOF order", 691, 407, 23.3, color="#1a1a1a"),
        ann("msl (hPa)", 216.5, 341, 15.7, color="#333"),
        ann("–", 267, 341, 15, color="#666"),
        ann("msl", 64, 531, 19, color="#808080"),
        ann("Leading PC#1 of Mean sea level pressure − Explained variance = 61.8%", 475.5, 534, 19.4, bold=True),
        ann("PC 1", 22, 682, 23.3, rot=-90, color="#1a1a1a"),
        ann("Index", 475, 870, 23.3, color="#1a1a1a"),
    ],
)

fig.write_html("out.html", config=dict(displayModeBar=False),
               post_script="document.body.style.margin='0';document.documentElement.style.overflow='hidden';")
